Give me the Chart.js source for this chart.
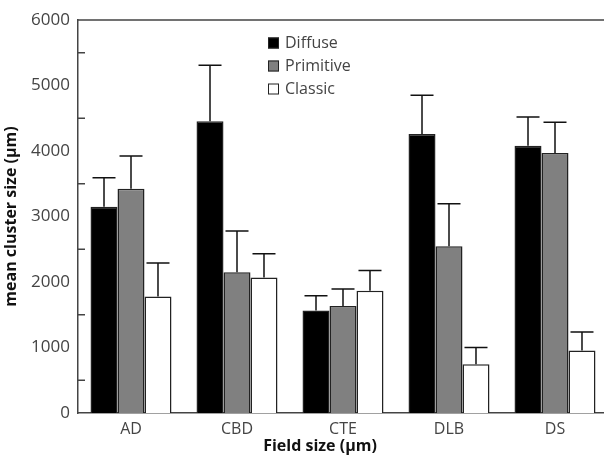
<!DOCTYPE html>
<html>
<head>
<title>Mean cluster size by field</title>
<script src="https://cdn.jsdelivr.net/npm/chart.js"></script>
<style>
body { margin: 0; background: #fff; }
#wrap { width: 604px; height: 457px; overflow: hidden; }
</style>
</head>
<body>
<div id="wrap"><canvas id="clusterChart" width="608" height="457"></canvas></div>
<script>
// values (upper error bars only)
const categories = ['AD', 'CBD', 'CTE', 'DLB', 'DS'];
const diffuse      = [3150, 4455, 1565, 4260, 4080];
const diffuseErr   = [440, 855, 225, 590, 440];
const primitive    = [3425, 2150, 1635, 2545, 3970];
const primitiveErr = [500, 630, 260, 650, 470];
const classic      = [1780, 2070, 1865, 745, 955];
const classicErr   = [510, 360, 310, 255, 280];
const yTicks = [0, 1000, 2000, 3000, 4000, 5000, 6000];

const errs = [diffuseErr, primitiveErr, classicErr];
const textFont = '"Open Sans", "DejaVu Sans", sans-serif';

// upper error bars
const errorBars = {
    id: 'errorBars',
    afterDatasetsDraw(chart) {
        const ctx = chart.ctx;
        const y = chart.scales.y;
        ctx.save();
        ctx.strokeStyle = '#111';
        ctx.lineWidth = 1.5;
        chart.data.datasets.forEach((ds, i) => {
            const meta = chart.getDatasetMeta(i);
            meta.data.forEach((bar, j) => {
                const top = y.getPixelForValue(ds.data[j] + errs[i][j]);
                ctx.beginPath();
                ctx.moveTo(bar.x, bar.y);
                ctx.lineTo(bar.x, top);
                ctx.moveTo(bar.x - 11.5, top);
                ctx.lineTo(bar.x + 11.5, top);
                ctx.stroke();
            });
        });
        ctx.restore();
    }
};

// frame top line, inward ticks, legend and x title
const decorations = {
    id: 'decorations',
    afterDraw(chart) {
        const ctx = chart.ctx;
        const area = chart.chartArea;
        const y = chart.scales.y;
        ctx.save();
        ctx.strokeStyle = '#444';
        ctx.lineWidth = 1.5;
        ctx.beginPath();
        ctx.moveTo(area.left, area.top);
        ctx.lineTo(area.right, area.top);
        for (let v = 500; v < 6000; v += 1000) {
            const py = y.getPixelForValue(v);
            ctx.moveTo(area.left, py);
            ctx.lineTo(area.left + 7, py);
        }
        ctx.stroke();

        // legend
        ctx.font = '16px ' + textFont;
        ctx.textBaseline = 'middle';
        chart.data.datasets.forEach((ds, i) => {
            const ly = 43 + i * 23;
            ctx.fillStyle = ds.backgroundColor;
            ctx.fillRect(268, ly - 5.5, 11, 11);
            ctx.strokeStyle = '#222';
            ctx.lineWidth = 1;
            ctx.strokeRect(268.5, ly - 5, 10, 10);
            ctx.fillStyle = '#444';
            ctx.fillText(ds.label, 285, ly);
        });

        // x axis title
        ctx.font = 'bold 16px ' + textFont;
        ctx.fillStyle = '#111';
        ctx.textAlign = 'center';
        ctx.fillText('Field size (\u03bcm)', 320, 446);
        ctx.restore();
    }
};

const ctx = document.getElementById('clusterChart').getContext('2d');
new Chart(ctx, {
    type: 'bar',
    data: {
        labels: categories,
        datasets: [
            { label: 'Diffuse', data: diffuse, backgroundColor: '#000000' },
            { label: 'Primitive', data: primitive, backgroundColor: '#808080' },
            { label: 'Classic', data: classic, backgroundColor: '#ffffff' }
        ]
    },
    options: {
        responsive: false,
        animation: false,
        layout: { padding: { top: 20, right: 0, left: 0, bottom: 0 } },
        datasets: {
            bar: {
                borderColor: '#222',
                borderWidth: 1.5,
                barPercentage: 1,
                categoryPercentage: 0.764
            }
        },
        plugins: {
            legend: { display: false },
            tooltip: { enabled: false }
        },
        scales: {
            x: {
                grid: { display: false, drawTicks: false },
                border: { color: '#444', width: 1.5 },
                ticks: { color: '#444', padding: 7, font: { family: textFont, size: 16 } },
                afterFit(scale) { scale.height = 44; }
            },
            y: {
                min: 0,
                max: 6000,
                afterBuildTicks(scale) { scale.ticks = yTicks.map(v => ({ value: v })); },
                grid: { display: false, drawTicks: false },
                border: { color: '#444', width: 1.5 },
                ticks: {
                    color: '#444',
                    padding: 8,
                    font: { family: textFont, size: 17 },
                    callback: v => String(v)
                },
                title: {
                    display: true,
                    text: 'mean cluster size (\u03bcm)',
                    color: '#111',
                    padding: { top: 2, bottom: 2 },
                    font: { family: textFont, size: 16, weight: 'bold' }
                },
                afterFit(scale) { scale.width = 78; }
            }
        }
    },
    plugins: [errorBars, decorations]
});
</script>
</body>
</html>
